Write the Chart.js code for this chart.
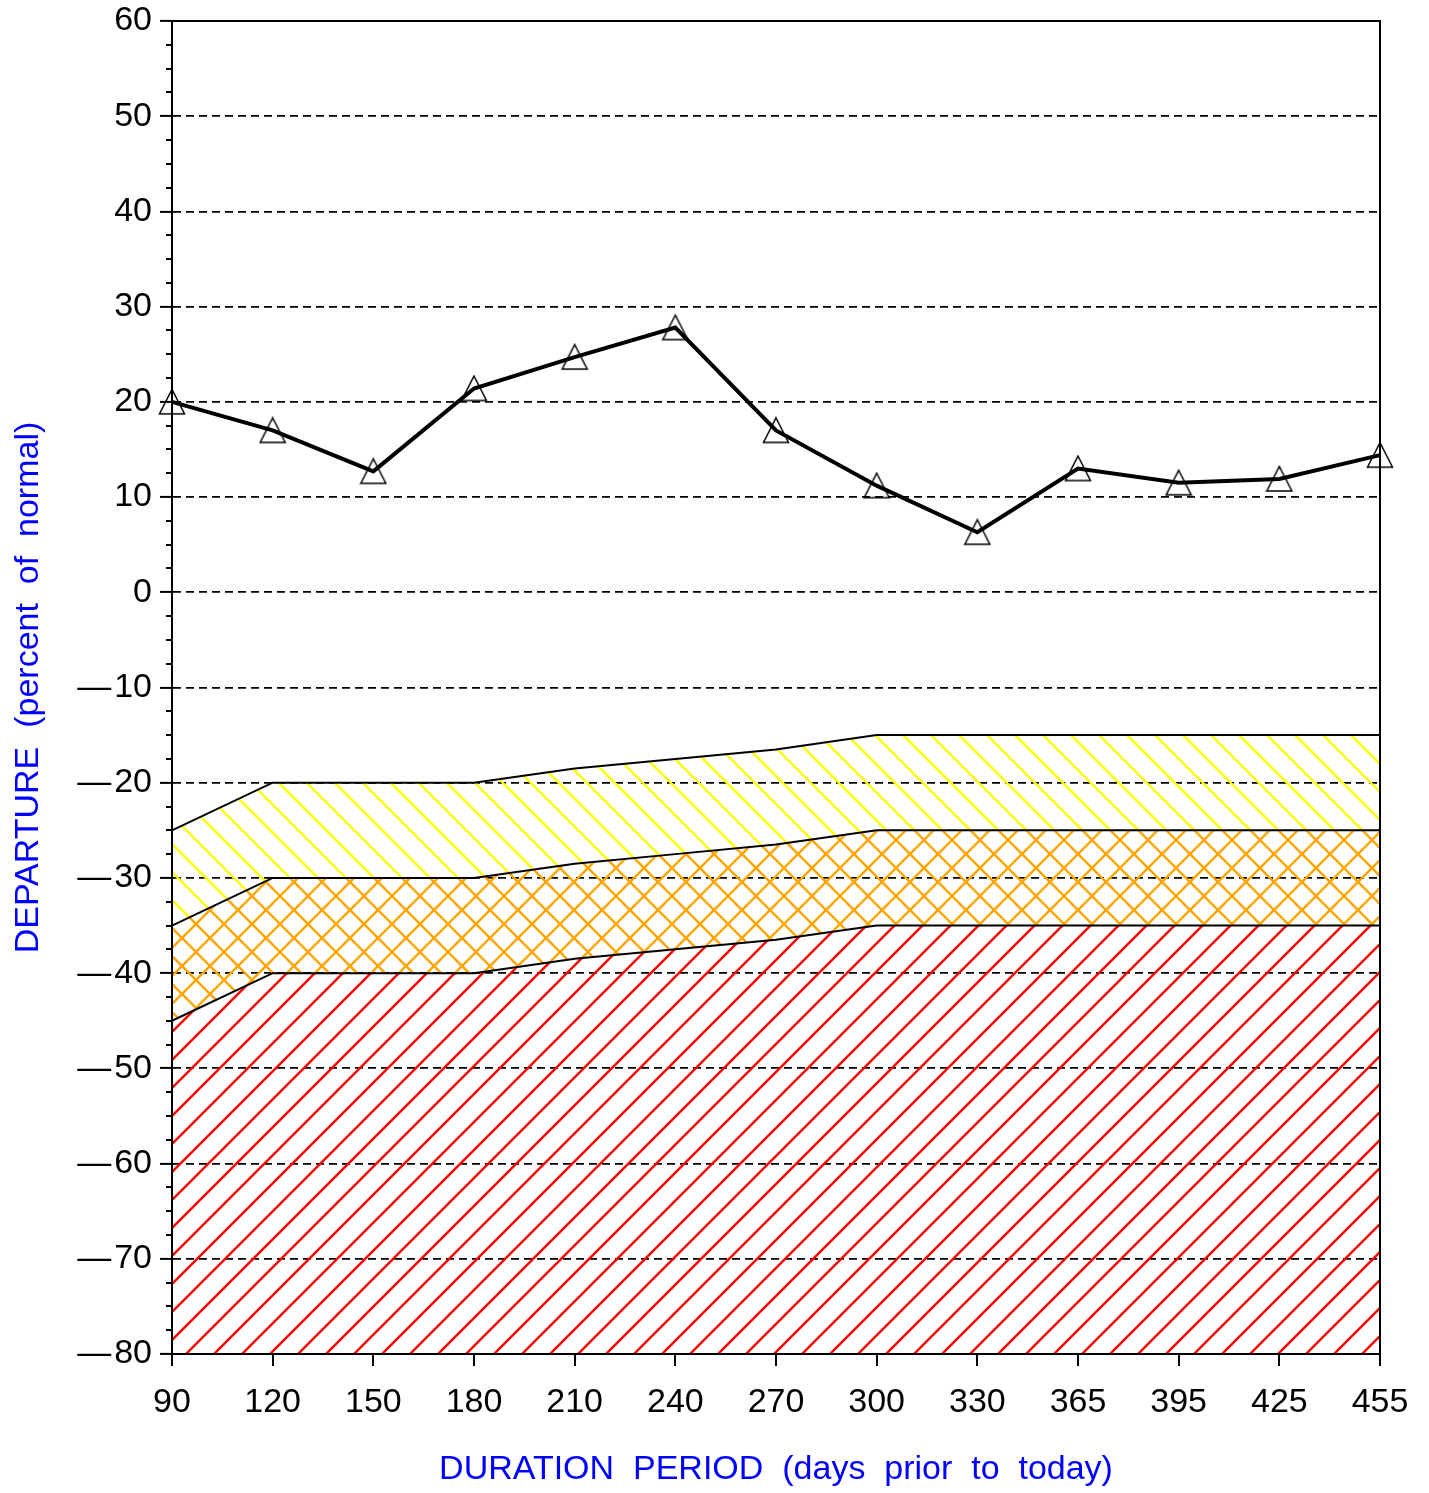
<!DOCTYPE html>
<html>
<head>
<meta charset="utf-8">
<script src="https://cdn.jsdelivr.net/npm/chart.js@4"></script>
<style>
  html, body { margin: 0; padding: 0; background: #fff; }
  #wrap { width: 1429px; height: 1493px; }
</style>
</head>
<body>
<div id="wrap"><canvas id="departureChart" width="1429" height="1493"></canvas></div>
<script>
// duration periods (days prior to today)
const categories = ['90', '120', '150', '180', '210', '240', '270', '300', '330', '365', '395', '425', '455'];
// departure, percent of normal
const departure = [20, 17, 12.7, 21.4, 24.7, 27.8, 17, 11.2, 6.3, 13, 11.5, 11.9, 14.4];
// threshold bands
const yellowTop = [-25, -20, -20, -20, -18.5, -17.5, -16.5, -15, -15, -15, -15, -15, -15];
const orangeTop = [-35, -30, -30, -30, -28.5, -27.5, -26.5, -25, -25, -25, -25, -25, -25];
const redTop = [-45, -40, -40, -40, -38.5, -37.5, -36.5, -35, -35, -35, -35, -35, -35];
const yMin = -80, yMax = 60, yStep = 10, yMinorStep = 2.5;

Chart.defaults.font.family = "'Liberation Sans', Arial, sans-serif";
Chart.defaults.color = '#000';

// hatch pattern tiles
function makeHatch(color, back, fwd) {
    const s = 28;
    const tile = document.createElement('canvas');
    tile.width = s;
    tile.height = s;
    const c = tile.getContext('2d');
    c.strokeStyle = color;
    c.lineWidth = 2.4;
    for (let k = -1; k <= 1; k++) {
        if (back) {
            c.beginPath();
            c.moveTo(k * s - 1, -1);
            c.lineTo(k * s + s + 1, s + 1);
            c.stroke();
        }
        if (fwd) {
            c.beginPath();
            c.moveTo(k * s - 1, s + 1);
            c.lineTo(k * s + s + 1, -1);
            c.stroke();
        }
    }
    return c.createPattern(tile, 'repeat');
}

function makeTriangle() {
    const t = document.createElement('canvas');
    t.width = 28;
    t.height = 28;
    const c = t.getContext('2d');
    c.strokeStyle = '#000';
    c.lineWidth = 1.5;
    c.beginPath();
    c.moveTo(14, 1.5);
    c.lineTo(26.5, 26);
    c.lineTo(1.5, 26);
    c.closePath();
    c.stroke();
    return t;
}

// frame + minor ticks on the y axis
const framePlugin = {
    id: 'frame',
    afterDraw(chart) {
        const ctx = chart.ctx;
        const a = chart.chartArea;
        const y = chart.scales.y;
        ctx.save();
        ctx.strokeStyle = '#000';
        ctx.lineWidth = 2;
        ctx.strokeRect(a.left, a.top, a.right - a.left, a.bottom - a.top);
        for (let v = yMin; v <= yMax; v += yMinorStep) {
            if (v % yStep === 0) continue;
            const py = Math.round(y.getPixelForValue(v));
            ctx.beginPath();
            ctx.moveTo(a.left - 6, py);
            ctx.lineTo(a.left, py);
            ctx.stroke();
        }
        ctx.restore();
    }
};

const chart = new Chart(document.getElementById('departureChart'), {
    type: 'line',
    data: {
        labels: categories,
        datasets: [
            {
                label: 'Departure',
                data: departure,
                borderColor: '#000',
                borderWidth: 4,
                tension: 0,
                fill: false,
                pointStyle: makeTriangle(),
                pointRadius: 13
            },
            {
                label: 'Red',
                data: redTop,
                borderColor: '#000',
                borderWidth: 2,
                backgroundColor: makeHatch('#ff0000', false, true),
                pointRadius: 0,
                tension: 0,
                fill: 'start'
            },
            {
                label: 'Orange',
                data: orangeTop,
                borderColor: '#000',
                borderWidth: 2,
                backgroundColor: makeHatch('#ffa500', true, true),
                pointRadius: 0,
                tension: 0,
                fill: '-1'
            },
            {
                label: 'Yellow',
                data: yellowTop,
                borderColor: '#000',
                borderWidth: 2,
                backgroundColor: makeHatch('#ffff00', true, false),
                pointRadius: 0,
                tension: 0,
                fill: '-1'
            }
        ]
    },
    options: {
        responsive: false,
        animation: false,
        events: [],
        layout: { padding: { top: 21, right: 49, left: 0, bottom: 0 } },
        plugins: {
            legend: { display: false },
            tooltip: { enabled: false }
        },
        scales: {
            x: {
                afterFit: (scale) => { scale.height = 139; scale.paddingLeft = 0; scale.paddingRight = 0; },
                grid: {
                    drawOnChartArea: false,
                    tickLength: 12,
                    color: '#000',
                    lineWidth: 2
                },
                border: { display: true, color: '#000', width: 2 },
                ticks: {
                    font: { size: 34 },
                    padding: 16,
                    maxRotation: 0,
                    autoSkip: false
                },
                title: {
                    display: true,
                    text: 'DURATION  PERIOD  (days  prior  to  today)',
                    color: '#0000ff',
                    font: { size: 34 },
                    padding: { top: 0, bottom: 3 }
                }
            },
            y: {
                min: yMin,
                max: yMax,
                afterFit: (scale) => { scale.width = 172; scale.paddingTop = 0; scale.paddingBottom = 0; },
                grid: {
                    color: '#000',
                    lineWidth: 1.8,
                    tickLength: 12,
                    tickColor: '#000',
                    tickWidth: 2
                },
                border: { display: true, color: '#000', width: 2, dash: [8, 5] },
                ticks: {
                    stepSize: yStep,
                    font: { size: 34 },
                    padding: 8,
                    callback: (v) => v < 0 ? '\u2014\u200A' + Math.abs(v) : String(v)
                },
                title: {
                    display: true,
                    text: 'DEPARTURE  (percent  of  normal)',
                    color: '#0000ff',
                    font: { size: 34 },
                    padding: { top: 8, bottom: 0 }
                }
            }
        }
    },
    plugins: [framePlugin]
});
</script>
</body>
</html>
